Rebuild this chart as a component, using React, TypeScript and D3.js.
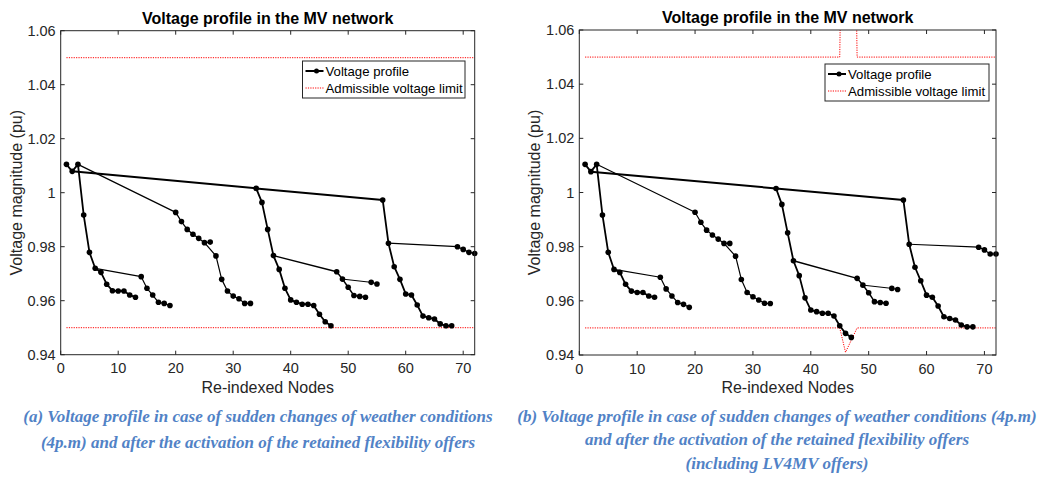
import * as d3 from "d3";

// network topology: each branch starts at its parent node
const branches = [
  [1, 2, 3],
  [3, 4, 5, 6, 7, 8, 9, 10, 11, 12, 13],
  [6, 14, 15, 16, 17, 18, 19],
  [3, 20, 21, 22, 23, 24, 25, 26],
  [25, 27, 28, 29, 30, 31, 32, 33],
  [2, 34, 56],
  [34, 35, 36, 37, 38, 39, 40, 41, 42, 43, 44, 45, 46, 47],
  [37, 48, 49, 50, 51, 52, 53],
  [49, 54, 55],
  [56, 57, 58, 59, 60, 61, 62, 63, 64, 65, 66, 67, 68],
  [57, 69, 70, 71, 72],
];
const branchWidths = [1.8, 1.8, 1.2, 1.2, 1.2, 2, 1.8, 1.5, 1, 1.8, 1.2];

// voltage per node (node 1 .. 72)
const voltageA = [
  1.0105, 1.0079, 1.0105, 0.9917, 0.9779, 0.972, 0.9705, 0.9661, 0.9637, 0.9636,
  0.9636, 0.9621, 0.9613, 0.9689, 0.9646, 0.9621, 0.9594, 0.959, 0.9582, 0.9927,
  0.9893, 0.9864, 0.9846, 0.9831, 0.9815, 0.9817, 0.9766, 0.9679, 0.9636, 0.9617,
  0.9607, 0.959, 0.959, 1.0016, 0.9964, 0.9864, 0.9767, 0.9716, 0.9646, 0.9603,
  0.9594, 0.9587, 0.9587, 0.9582, 0.955, 0.9522, 0.9507, 0.9707, 0.968, 0.965,
  0.9619, 0.9616, 0.9613, 0.9668, 0.9662, 0.9973, 0.9813, 0.9726, 0.9679, 0.9625,
  0.9621, 0.9584, 0.9543, 0.9537, 0.9532, 0.9514, 0.9507, 0.9507, 0.98, 0.979,
  0.9779, 0.9775,
];
const voltageB = [
  1.0104, 1.0077, 1.0104, 0.9917, 0.9779, 0.9716, 0.9705, 0.9661, 0.9636, 0.9631,
  0.9631, 0.9618, 0.9613, 0.9687, 0.9644, 0.9618, 0.9594, 0.9587, 0.9576, 0.9927,
  0.989, 0.9861, 0.9843, 0.9828, 0.9812, 0.9812, 0.9765, 0.9679, 0.9631, 0.9615,
  0.9603, 0.9591, 0.959, 1.0015, 0.9956, 0.9851, 0.9748, 0.9693, 0.9611, 0.9566,
  0.956, 0.9554, 0.9554, 0.9544, 0.9508, 0.948, 0.9465, 0.9683, 0.9658, 0.963,
  0.9597, 0.9594, 0.9591, 0.9646, 0.9642, 0.9972, 0.9809, 0.9724, 0.9674, 0.9621,
  0.9613, 0.9581, 0.9541, 0.9535, 0.9529, 0.9511, 0.9504, 0.9504, 0.9798, 0.9788,
  0.9773, 0.9773,
];

const limitNodesA = [1, 72];
const upperA = [1.05, 1.05];
const lowerA = [0.95, 0.95];
const limitNodesB = [1, 45, 46, 47, 48, 72];
const upperB = [1.05, 1.05, 1.2, 1.2, 1.05, 1.05];
const lowerB = [0.95, 0.95, 0.941, 0.9455, 0.95, 0.95];

const xTicks = [0, 10, 20, 30, 40, 50, 60, 70];
const yTicks = [0.94, 0.96, 0.98, 1, 1.02, 1.04, 1.06];

const captionA = [
  "(a) Voltage profile in case of sudden changes of weather conditions",
  "(4p.m) and after the activation of the retained flexibility offers",
];
const captionB = [
  "(b) Voltage profile in case of sudden changes of weather conditions (4p.m)",
  "and after the activation of the retained flexibility offers",
  "(including LV4MV offers)",
];

const AX = "#262626";
const SANS = "'Liberation Sans', Arial, Helvetica, sans-serif";
const SERIF = "'Liberation Serif', 'Times New Roman', serif";

interface PanelProps {
  id: string;
  left: number;
  right: number;
  top: number;
  bottom: number;
  volts: number[];
  limNodes: number[];
  upper: number[];
  lower: number[];
  legend: { x: number; y: number; w: number; h: number };
  caption: string[];
  captionX: number;
  captionY: number[];
}

function Panel(p: PanelProps) {
  const x = d3.scaleLinear().domain([0, 72]).range([p.left, p.right]);
  const y = d3.scaleLinear().domain([0.94, 1.06]).range([p.bottom, p.top]);
  const line = d3
    .line<number>()
    .x((n) => x(n))
    .y((n) => y(p.volts[n - 1]));
  const limLine = d3
    .line<number>()
    .x((_, i) => x(p.limNodes[i]))
    .y((v) => y(v));
  const cx = (p.left + p.right) / 2;
  const cy = (p.top + p.bottom) / 2;
  const lg = p.legend;
  const nodes = p.volts.map((_, i) => i + 1);

  return (
    <g>
      <defs>
        <clipPath id={`clip-${p.id}`}>
          <rect x={p.left} y={p.top} width={p.right - p.left} height={p.bottom - p.top} />
        </clipPath>
      </defs>
      <rect x={p.left} y={p.top} width={p.right - p.left} height={p.bottom - p.top} fill="#fff" />

      {/* admissible limits */}
      <g clipPath={`url(#clip-${p.id})`} fill="none" stroke="#ff0000" strokeWidth={1} strokeDasharray="1.2 1.2">
        <path d={limLine(p.upper) || ""} />
        <path d={limLine(p.lower) || ""} />
      </g>

      {/* voltage profile */}
      <g fill="none" stroke="#000" strokeLinejoin="round">
        {branches.map((b, i) => (
          <path key={i} d={line(b) || ""} strokeWidth={branchWidths[i]} />
        ))}
      </g>
      <g fill="#000">
        {nodes.map((n) => (
          <circle key={n} cx={x(n)} cy={y(p.volts[n - 1])} r={2.8} />
        ))}
      </g>

      {/* axes box and ticks */}
      <rect x={p.left} y={p.top} width={p.right - p.left} height={p.bottom - p.top} fill="none" stroke={AX} strokeWidth={1} />
      <g stroke={AX} strokeWidth={1}>
        {xTicks.map((t) => (
          <g key={t}>
            <line x1={x(t)} x2={x(t)} y1={p.bottom} y2={p.bottom - 4} />
            <line x1={x(t)} x2={x(t)} y1={p.top} y2={p.top + 4} />
          </g>
        ))}
        {yTicks.map((t) => (
          <g key={t}>
            <line x1={p.left} x2={p.left + 4} y1={y(t)} y2={y(t)} />
            <line x1={p.right} x2={p.right - 4} y1={y(t)} y2={y(t)} />
          </g>
        ))}
      </g>
      <g fill={AX} fontFamily={SANS} fontSize={14.5}>
        {xTicks.map((t) => (
          <text key={t} x={x(t)} y={p.bottom + 18.5} textAnchor="middle">
            {t}
          </text>
        ))}
        {yTicks.map((t) => (
          <text key={t} x={p.left - 5} y={y(t) + 5} textAnchor="end">
            {String(t)}
          </text>
        ))}
      </g>
      <text x={cx} y={p.bottom + 38} textAnchor="middle" fontFamily={SANS} fontSize={16} fill={AX}>
        Re-indexed Nodes
      </text>
      <text
        transform={`translate(${p.left - 39},${cy}) rotate(-90)`}
        textAnchor="middle"
        fontFamily={SANS}
        fontSize={16}
        fill={AX}
      >
        Voltage magnitude (pu)
      </text>
      <text x={cx} y={p.top - 7} textAnchor="middle" fontFamily={SANS} fontSize={16} fontWeight="bold" fill="#000">
        Voltage profile in the MV network
      </text>

      {/* legend */}
      <rect x={lg.x} y={lg.y} width={lg.w} height={lg.h} fill="#fff" stroke={AX} strokeWidth={1} />
      <line x1={lg.x + 3} x2={lg.x + 21} y1={lg.y + 10} y2={lg.y + 10} stroke="#000" strokeWidth={2} />
      <circle cx={lg.x + 14} cy={lg.y + 10} r={2.5} fill="#000" />
      <line
        x1={lg.x + 3}
        x2={lg.x + 21}
        y1={lg.y + 27}
        y2={lg.y + 27}
        stroke="#ff0000"
        strokeWidth={1}
        strokeDasharray="1.2 1.2"
      />
      <g fontFamily={SANS} fontSize={13.2} fill="#000">
        <text x={lg.x + 23} y={lg.y + 14.5}>
          Voltage profile
        </text>
        <text x={lg.x + 23} y={lg.y + 31.5}>
          Admissible voltage limit
        </text>
      </g>

      {/* caption */}
      <g fontFamily={SERIF} fontSize={17} fontWeight="bold" fontStyle="italic" fill="#5182c6" textAnchor="middle">
        {p.caption.map((c, i) => (
          <text key={i} x={p.captionX} y={p.captionY[i]}>
            {c}
          </text>
        ))}
      </g>
    </g>
  );
}

export default function App() {
  return (
    <svg
      width={1043}
      height={477}
      style={{ position: "absolute", left: 0, top: 0, background: "#fff" }}
    >
      <Panel
        id="a"
        left={60.7}
        right={474.7}
        top={30.7}
        bottom={354.7}
        volts={voltageA}
        limNodes={limitNodesA}
        upper={upperA}
        lower={lowerA}
        legend={{ x: 302.5, y: 61, w: 162.5, h: 37 }}
        caption={captionA}
        captionX={258}
        captionY={[422, 448]}
      />
      <Panel
        id="b"
        left={579.3}
        right={996}
        top={30}
        bottom={355}
        volts={voltageB}
        limNodes={limitNodesB}
        upper={upperB}
        lower={lowerB}
        legend={{ x: 825, y: 64, w: 164, h: 37 }}
        caption={captionB}
        captionX={777}
        captionY={[422, 445, 469]}
      />
    </svg>
  );
}
